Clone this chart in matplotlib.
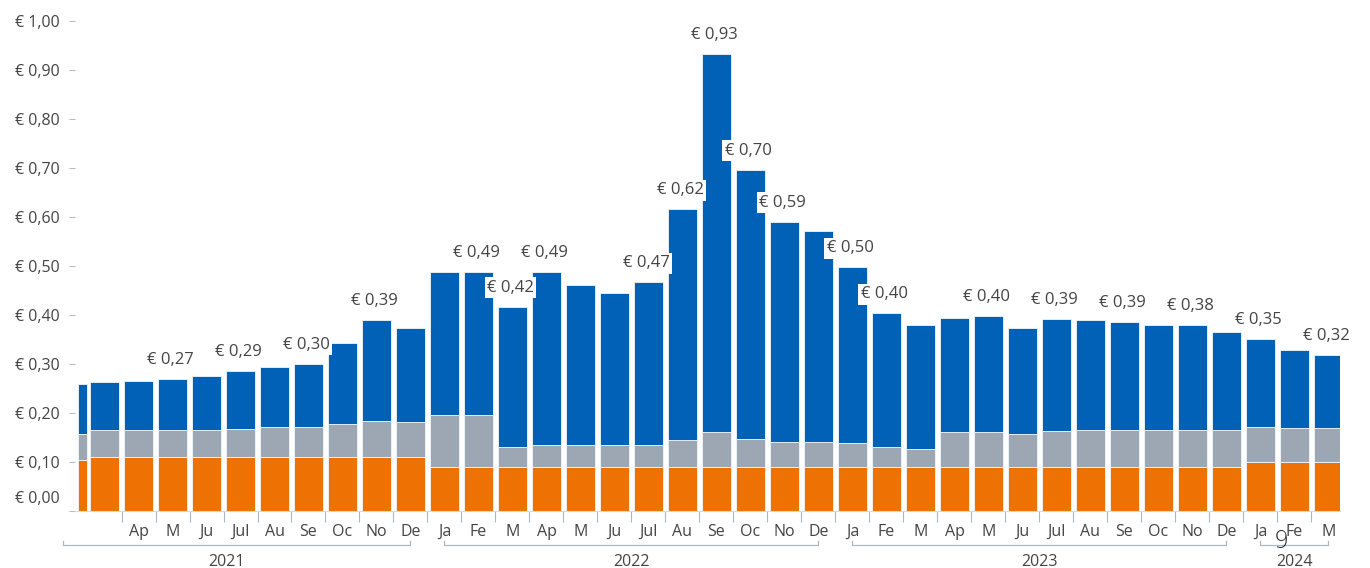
import numpy as np
import matplotlib
matplotlib.use('Agg')
import matplotlib.pyplot as plt
import matplotlib.transforms as mtransforms

plt.rcParams['font.family'] = ['Open Sans', 'DejaVu Sans']

# monthly values, March 2021 .. March 2024 (euro)
orange_top = [0.110, 0.110, 0.110, 0.110, 0.110, 0.110, 0.110, 0.110, 0.110, 0.110,
              0.089, 0.089, 0.089, 0.089, 0.089, 0.089, 0.089, 0.089, 0.089, 0.089, 0.089, 0.089,
              0.090, 0.090, 0.090, 0.090, 0.090, 0.090, 0.090, 0.090, 0.090, 0.090, 0.090, 0.090,
              0.099, 0.099, 0.099]
grey_top = [0.165, 0.165, 0.165, 0.165, 0.168, 0.171, 0.171, 0.178, 0.184, 0.182,
            0.195, 0.195, 0.131, 0.135, 0.135, 0.135, 0.135, 0.145, 0.161, 0.146, 0.141, 0.141,
            0.138, 0.130, 0.127, 0.161, 0.161, 0.158, 0.164, 0.165, 0.165, 0.165, 0.165, 0.165,
            0.171, 0.169, 0.169]
totals = [0.263, 0.266, 0.270, 0.276, 0.286, 0.294, 0.300, 0.343, 0.390, 0.373,
          0.487, 0.488, 0.417, 0.488, 0.461, 0.444, 0.467, 0.616, 0.932, 0.696, 0.590, 0.572,
          0.497, 0.403, 0.380, 0.394, 0.397, 0.373, 0.392, 0.390, 0.386, 0.380, 0.380, 0.366,
          0.350, 0.329, 0.318]
month_labels = ['', 'Ap', 'M', 'Ju', 'Jul', 'Au', 'Se', 'Oc', 'No', 'De',
                'Ja', 'Fe', 'M', 'Ap', 'M', 'Ju', 'Jul', 'Au', 'Se', 'Oc', 'No', 'De',
                'Ja', 'Fe', 'M', 'Ap', 'M', 'Ju', 'Jul', 'Au', 'Se', 'Oc', 'No', 'De',
                'Ja', 'Fe', 'M']
labelled = [2, 4, 6, 8, 11, 12, 13, 16, 17, 18, 19, 20, 22, 23, 26, 28, 30, 32, 34, 36]

# the partial first bar (end of February 2021)
first_bar = (0.105, 0.157, 0.259)

years = ['2021', '2022', '2023', '2024']
year_spans = [(-1.22, 9), (10, 21), (22, 33), (34, 36)]
year_label_x = [3.6, 15.5, 27.5, 35]

yticks = [0, 0.1, 0.2, 0.3, 0.4, 0.5, 0.6, 0.7, 0.8, 0.9, 1.0]

c_orange = '#EE7203'
c_grey = '#9CA7B3'
c_blue = '#0061B6'
txt = '#444444'
axis_col = '#A9B8C8'

orange_top = np.array(orange_top)
grey_top = np.array(grey_top)
totals = np.array(totals)
x = np.arange(len(totals))

fig = plt.figure(figsize=(13.7, 5.68), dpi=100)
ax = fig.add_axes([75 / 1370, 1 - 511 / 568, 1265 / 1370, 496 / 568])

w = 0.87
kw = dict(edgecolor='#F2F6FA', linewidth=0.6)
ax.bar(x, orange_top, w, color=c_orange, **kw)
ax.bar(x, grey_top - orange_top, w, bottom=orange_top, color=c_grey, **kw)
ax.bar(x, totals - grey_top, w, bottom=grey_top, color=c_blue, **kw)

fx, fw = -0.645, 0.27
ax.bar(fx, first_bar[0], fw, color=c_orange, **kw)
ax.bar(fx, first_bar[1] - first_bar[0], fw, bottom=first_bar[0], color=c_grey, **kw)
ax.bar(fx, first_bar[2] - first_bar[1], fw, bottom=first_bar[1], color=c_blue, **kw)

for i in labelled:
    s = '€ {:.2f}'.format(totals[i]).replace('.', ',')
    ax.annotate(s, (x[i] - 0.06, totals[i]), xytext=(0, 19), textcoords='offset pixels',
                ha='center', va='center', fontsize=12, color=txt, zorder=5,
                bbox=dict(boxstyle='square,pad=0.15', facecolor='white', edgecolor='none'))

ax.set_xlim(-0.868, 36.34)
ax.set_ylim(0, 1.012)

ax.set_yticks(yticks)
ax.set_yticklabels(['€ {:.2f}'.format(v).replace('.', ',') for v in yticks])
ax.tick_params(axis='y', length=4, width=0.8, color='#BBBBBB', pad=7,
               labelsize=11.5, labelcolor=txt)
zero_lbl = ax.get_yticklabels()[0]
zero_lbl.set_transform(zero_lbl.get_transform() +
                       mtransforms.ScaledTranslation(0, 14 / 100, fig.dpi_scale_trans))

# month boundaries as tick marks, month names centred on the bars
ax.set_xticks(x[:-1] + 0.5)
ax.set_xticklabels([])
ax.set_xticks(x, minor=True)
ax.set_xticklabels(month_labels, minor=True)
ax.tick_params(axis='x', which='major', length=8, width=0.8, color=axis_col)
ax.tick_params(axis='x', which='minor', length=0, pad=9, labelsize=11.5, labelcolor=txt)

for side in ['left', 'top', 'right']:
    ax.spines[side].set_visible(False)
ax.spines['bottom'].set_color('#D5DCE4')
ax.spines['bottom'].set_linewidth(0.8)

# year brackets below the month names
tr = mtransforms.blended_transform_factory(ax.transData, ax.transAxes)
yb = -34 / 496
for (a, b), yr, lx in zip(year_spans, years, year_label_x):
    ax.plot([a, a, b, b], [yb + 0.008, yb, yb, yb + 0.008], color=axis_col, lw=0.9,
            transform=tr, clip_on=False)
    ax.text(lx, -51 / 496, yr, transform=tr, ha='center', va='center',
            fontsize=11.5, color=txt)

fig.text(1281 / 1370, 1 - 541 / 568, '9', fontsize=17, color='#2A2A2A',
         family='DejaVu Sans', fontweight='light', ha='center', va='center')

fig.savefig('out.png', dpi=100, facecolor='white')
